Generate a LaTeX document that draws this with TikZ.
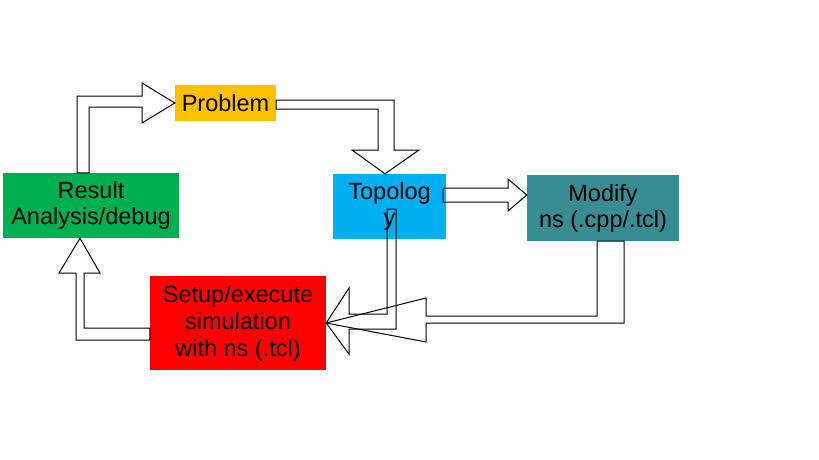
\documentclass[tikz,border=0pt]{standalone}
\usepackage{fontspec}
\setmainfont{Liberation Sans}
\usepackage{tikz}
\usetikzlibrary{positioning, calc}

\definecolor{probcolor}{RGB}{255,192,0}
\definecolor{rescolor}{RGB}{0,176,80}
\definecolor{topocolor}{RGB}{0,176,240}
\definecolor{modcolor}{RGB}{56,140,148}
\definecolor{simcolor}{RGB}{255,0,0}

\begin{document}
\begin{tikzpicture}[
    x=1pt, y=-1pt,
    stage/.style={inner sep=0pt, align=center, font=\fontsize{23.5}{26}\selectfont},
    blockarrow/.style={draw=black, line width=1pt, line join=miter}
]
\useasboundingbox (0,0) rectangle (819,460);

% Stages
\node[stage, fill=probcolor, minimum width=101pt, minimum height=36pt] (prob) at (225.5,103) {Problem};
\node[stage, fill=rescolor, minimum width=176pt, minimum height=65pt] (res) at (91,205.5) {Result\\Analysis/debug};
\node[stage, fill=topocolor, minimum width=113pt, minimum height=65pt] (topo) at (389.5,206.5) {Topolog\\y};
\node[stage, fill=modcolor, minimum width=152pt, minimum height=66pt] (mod) at (603,208) {Modify\\ns (.cpp/.tcl)};
\node[stage, fill=simcolor, minimum width=176pt, minimum height=94pt, font=\fontsize{23.5}{27}\selectfont] (sim) at (238,323) {Setup/execute\\simulation\\with ns (.tcl)};

% Result -> Problem
\draw[blockarrow] (res.north -| 77,0) |- (142,96) -- (142,83) -- (prob.west) -- (142,123) -- (142,107) -| (res.north -| 89,0) -- cycle;

% Problem -> Topology
\draw[blockarrow] (prob.east |- 0,100) -- (394,100) -- (394,150) -- (419,150) -- (topo.north -| 385,0) -- (352,150) -- (378,150) -- (378,109) -- (prob.east |- 0,109) -- cycle;

% Topology -> Modify
\draw[blockarrow] ($(topo.east |- 0,188)+(-3,0)$) -- (508,188) -- (508,179) -- (mod.west |- 0,195) -- (508,211) -- (508,202) -- ($(topo.east |- 0,202)+(-3,0)$) -- cycle;

% Topology -> Setup
\draw[blockarrow] ($(topo.center)+(-2.5,2.5)$) -- (396,209) -- (396,329) -- (349,329) -- (349,354) -- (sim.east) -- (349,288) -- (349,314) -- (387,314) -- cycle;

% Modify -> Setup
\draw[blockarrow] (mod.south -| 597,0) -- (mod.south -| 624,0) -- (624,323) -- (426,323) -- (426,342) -- (sim.east) -- (426,298) -- (426,316) -- (597,316) -- cycle;

% Setup -> Result
\draw[blockarrow] (sim.west |- 0,328) -- (84,328) -- (84,273) -- (100,273) -- (res.south -| 80,0) -- (59,273) -- (76,273) -- (76,340) -- (sim.west |- 0,340) -- cycle;
\end{tikzpicture}
\end{document}
